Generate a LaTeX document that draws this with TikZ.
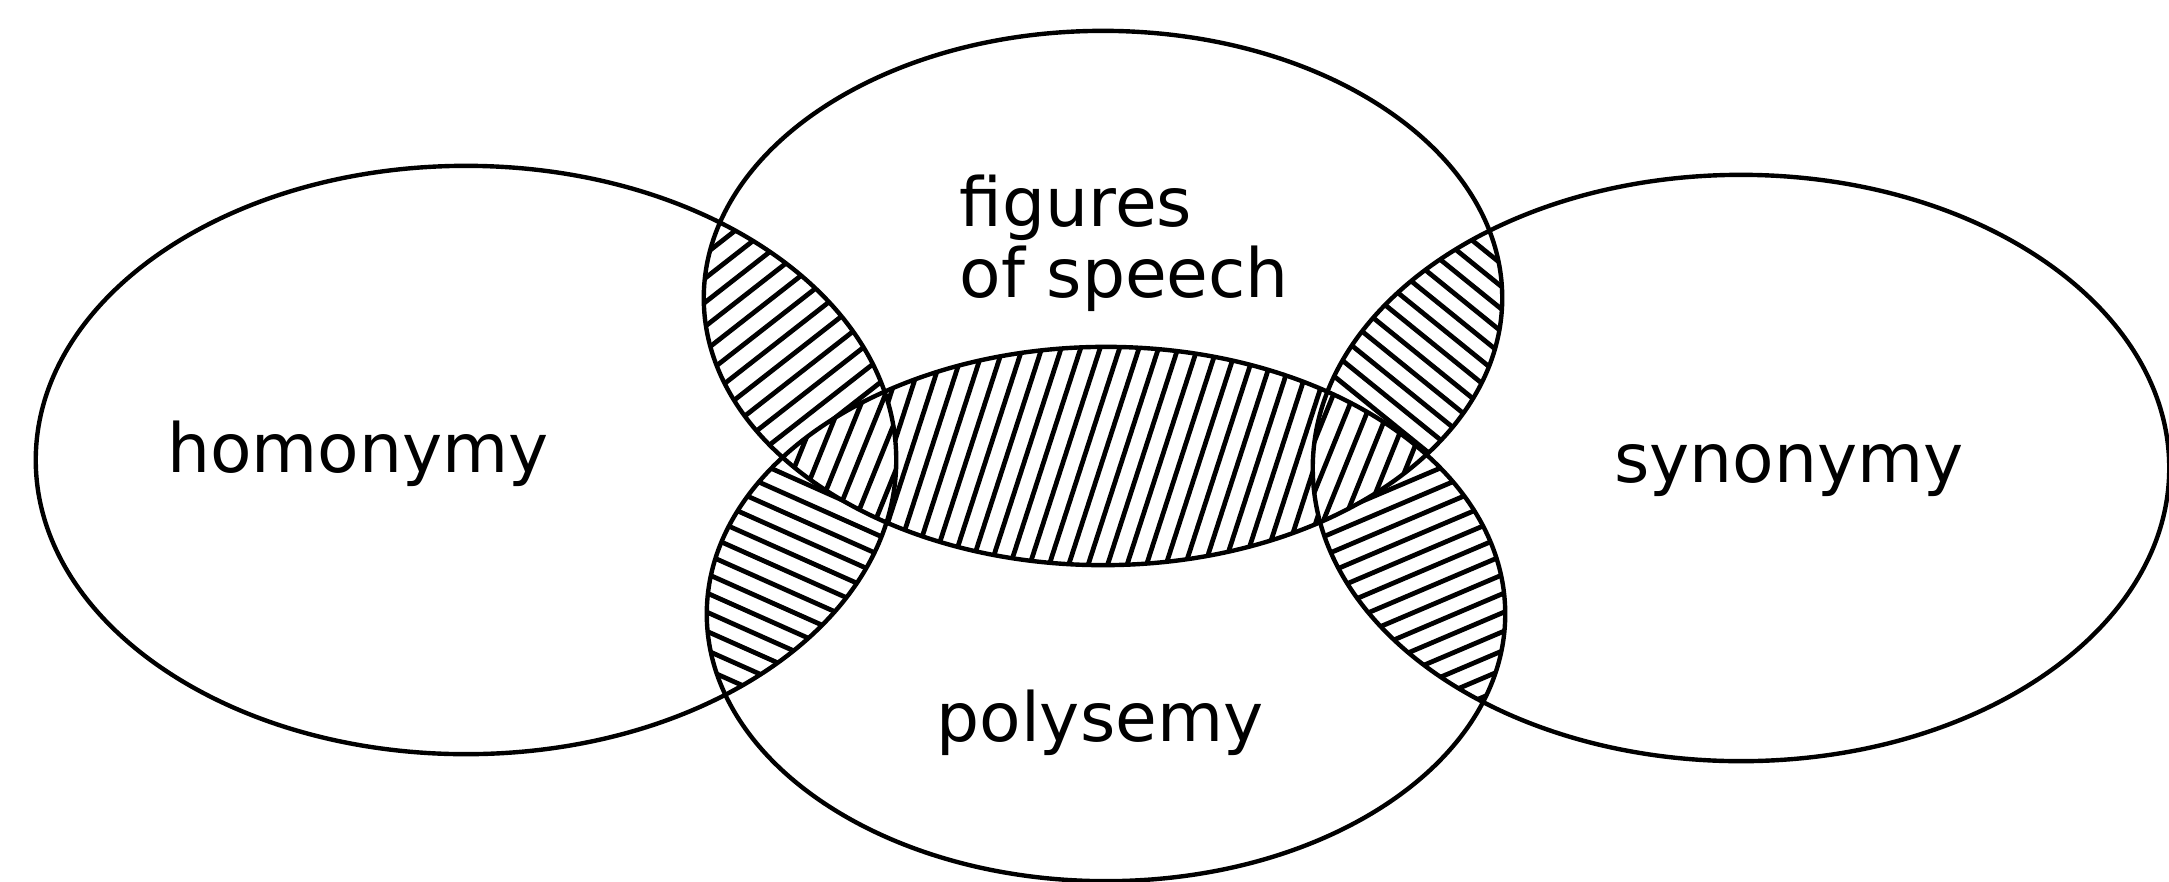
\documentclass[tikz,border=0pt]{standalone}
\usepackage{fontspec}
\setmainfont{DejaVu Sans}
\newcommand{\ellL}{(466,460) ellipse [x radius=4.30cm, y radius=2.94cm]}
\newcommand{\ellT}{(1103,298) ellipse [x radius=3.99cm, y radius=2.67cm]}
\newcommand{\ellR}{(1741,468) ellipse [x radius=4.28cm, y radius=2.93cm]}
\newcommand{\ellB}{(1106,614) ellipse [x radius=3.99cm, y radius=2.67cm]}
\newcommand{\hatchit}[4]{%
  \begin{scope}[shift={(#1,#2)}, rotate=#3]
    \foreach \k in {-36,...,36} \draw[hatchline] (-650,\k*#4) -- (650,\k*#4);
  \end{scope}}
\begin{document}
\begin{tikzpicture}[x=0.01cm, y=-0.01cm,
  outline/.style={draw=black, line width=1.25pt},
  hatchline/.style={draw=black, line width=1.35pt},
  lbl/.style={font=\fontsize{19.3pt}{23pt}\selectfont, inner sep=0pt}]
\useasboundingbox (0,0) rectangle (2169,881);
% left & top lens
\begin{scope}
  \clip \ellL; \clip \ellT;
  \hatchit{760}{380}{38}{19}
\end{scope}
% left & bottom lens
\begin{scope}
  \clip \ellL; \clip \ellB;
  \hatchit{760}{540}{-24}{17.5}
\end{scope}
% right & top lens
\begin{scope}
  \clip \ellR; \clip \ellT;
  \hatchit{1450}{380}{-39}{17.5}
\end{scope}
% right & bottom lens
\begin{scope}
  \clip \ellR; \clip \ellB;
  \hatchit{1450}{540}{23}{17.5}
\end{scope}
% central lens
\begin{scope}
  \clip \ellT; \clip \ellB;
  \fill[white] (0,0) rectangle (2169,881);
  \hatchit{1104}{456}{72}{18.5}
\end{scope}
% triple regions
\begin{scope}
  \clip \ellT; \clip \ellB; \clip \ellL;
  \fill[white] (0,0) rectangle (2169,881);
  \hatchit{840}{456}{68}{19}
\end{scope}
\begin{scope}
  \clip \ellT; \clip \ellB; \clip \ellR;
  \fill[white] (0,0) rectangle (2169,881);
  \hatchit{1370}{456}{68}{19}
\end{scope}
% outlines
\draw[outline] \ellL;
\draw[outline] \ellT;
\draw[outline] \ellR;
\draw[outline] \ellB;
% labels
\node[lbl, anchor=base] (hom) at (358,472) {homonymy};
\node[lbl, anchor=base west] (fig) at (959,226) {figures};
\node[lbl, anchor=base west] (spe) at (959,297) {of speech};
\node[lbl, anchor=base] (syn) at (1789,482) {synonymy};
\node[lbl, anchor=base] (pol) at (1100,741) {polysemy};
\end{tikzpicture}
\end{document}
